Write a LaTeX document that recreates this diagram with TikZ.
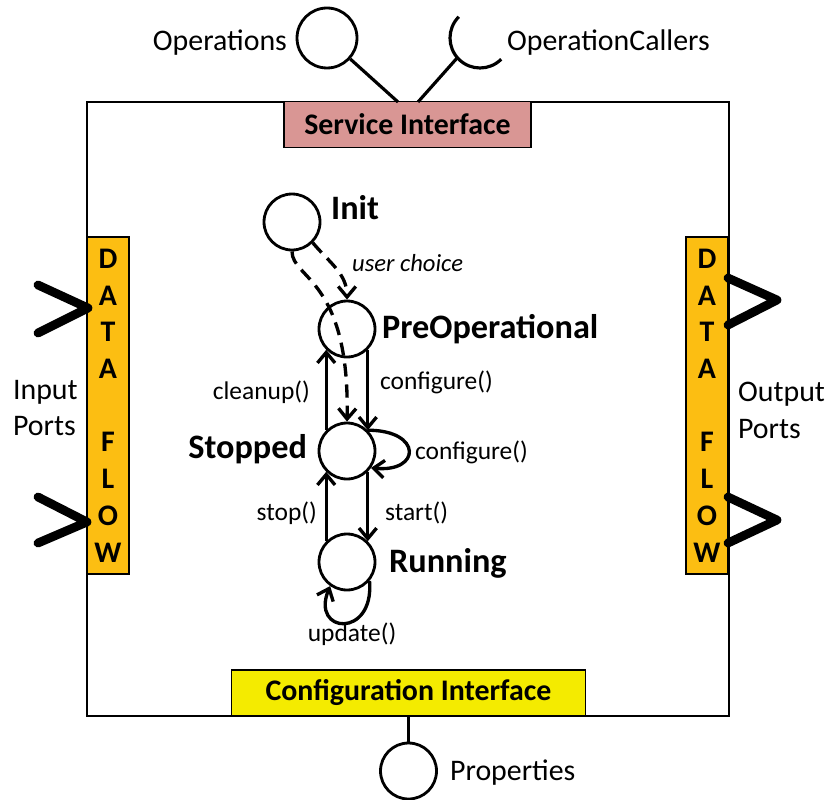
\documentclass[tikz,border=0pt]{standalone}
\usepackage{fontspec}
\setmainfont{Carlito}
\usetikzlibrary{positioning,arrows.meta,calc}

\definecolor{svcred}{RGB}{217,150,148}
\definecolor{cfgyellow}{RGB}{244,235,0}
\definecolor{floworange}{RGB}{252,190,18}

\tikzset{
  state/.style={circle, draw, line width=1.6pt, minimum size=1.12cm, inner sep=0pt},
  statename/.style={font=\fontsize{19.5}{23}\selectfont\bfseries, inner sep=1pt},
  translbl/.style={font=\fontsize{14.5}{17}\selectfont, inner sep=1pt},
  txt/.style={font=\fontsize{17}{21}\selectfont, inner sep=1pt},
  trans/.style={line width=1.9pt, -{Straight Barb[length=6pt,width=10pt]}},
  choice/.style={trans, dash pattern=on 7.5pt off 4.5pt},
  iface/.style={draw, line width=1pt, minimum height=0.92cm, inner sep=0pt,
    font=\fontsize{17}{21}\selectfont\bfseries},
  flowbox/.style={draw, line width=1pt, fill=floworange, minimum width=0.84cm,
    minimum height=6.74cm, inner sep=0pt, align=center,
    font=\fontsize{17}{20.9}\selectfont\bfseries},
  port/.style={line width=5pt, line cap=round, line join=round},
  stem/.style={line width=1.8pt},
  icon/.style={circle, draw, line width=1.6pt, minimum size=1.2cm, inner sep=0pt}
}

\begin{document}
\begin{tikzpicture}[x=0.02cm, y=0.02cm]
  \useasboundingbox (0,0) rectangle (830,799);

  % Componente
  \draw[line width=1.5pt] (87,83) rectangle (729,697);

  % Interfaces
  \node[iface, fill=svcred, minimum width=4.94cm] (svc) at (407.5,674.5) {Service Interface};
  \node[iface, fill=cfgyellow, minimum width=7.08cm] (cfg) at (408.5,106) {Configuration Interface};

  % Data flow
  \node[flowbox] (inflow) at (108,393.5) {D\\A\\T\\A\\\mbox{}\\F\\L\\O\\W};
  \node[flowbox] (outflow) at (707,393.5) {D\\A\\T\\A\\\mbox{}\\F\\L\\O\\W};

  % Portas
  \draw[port] (38,514) -- (88,491) -- (38,466);
  \draw[port] (38,302) -- (87,277) -- (38,256);
  \draw[port] (728,521) -- (777,499) -- (728,474);
  \draw[port] (728,302) -- (777,279) -- (728,256);
  \node[txt, anchor=west, align=left] (inlbl) at (11,391) {Input\\Ports};
  \node[txt, anchor=west, align=left] (outlbl) at (736,389) {Output\\Ports};

  % Operations
  \node[icon] (ops) at (327,761) {};
  \node[txt, anchor=east] (opslbl) at (289,756) {Operations};
  \coordinate (opsend) at (398,697);
  \draw[stem] (ops) -- (opsend);

  % OperationCallers
  \coordinate (callers) at (480,761);
  \draw[stem] ($(callers)+(135:30)$) arc[start angle=135, end angle=315, radius=30];
  \coordinate (callend) at (418,697);
  \draw[stem] ($(callers)+(221:30)$) -- (callend);
  \node[txt, anchor=west] (callerslbl) at (505,756) {OperationCallers};

  % Properties
  \node[icon, minimum size=1.12cm] (props) at (408.5,28) {};
  \draw[stem] (cfg.south) -- (props);
  \node[txt, anchor=west] (propslbl) at (448,26) {Properties};

  % Estados
  \node[state] (init) at (292,577) {};
  \node[state] (preop) at (347,470) {};
  \node[state] (stopped) at (347,348) {};
  \node[state] (running) at (347,237) {};
  \node[statename, anchor=west] (initlbl) at (329,591) {Init};
  \node[statename, anchor=west] (preoplbl) at (380,470) {PreOperational};
  \node[statename, anchor=east] (stoppedlbl) at (309,350) {Stopped};
  \node[statename, anchor=west] (runninglbl) at (387,236) {Running};

  % Transicoes
  \draw[choice] (init.-45) to[out=-50, in=90] (preop.north);
  \draw[choice] (init.south) .. controls (292,520) and (350,520) .. (stopped.north);
  \node[translbl, anchor=west, font=\fontsize{14}{17}\selectfont\itshape] (choicelbl) at (350,536) {user choice};

  \draw[trans] (preop.315) -- (stopped.45);
  \draw[trans] (stopped.135) -- (preop.225);
  \draw[trans] (stopped.315) -- (running.45);
  \draw[trans] (running.135) -- (stopped.225);
  \draw[trans] (stopped.45) .. controls +(55,0) and +(50,-5) .. (stopped.-35);
  \draw[trans] (running.-40) .. controls +(5,-58) and +(-20,-48) .. (running.235);

  \node[translbl, anchor=west] (cfglbl) at (378,417) {configure()};
  \node[translbl, anchor=east] (cleanlbl) at (312,407) {cleanup()};
  \node[translbl, anchor=west] (recfglbl) at (413,347) {configure()};
  \node[translbl, anchor=east] (stoplbl) at (319,286) {stop()};
  \node[translbl, anchor=west] (startlbl) at (383,286) {start()};
  \node[translbl] (updatelbl) at (352,165) {update()};
\end{tikzpicture}
\end{document}
